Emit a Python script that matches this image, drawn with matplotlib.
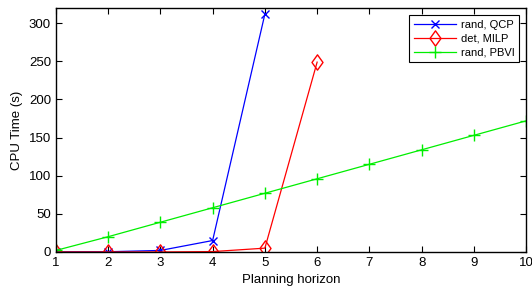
import matplotlib
matplotlib.use("Agg")
import matplotlib.pyplot as plt
from matplotlib.path import Path

plt.rcParams['font.family'] = ['Liberation Sans', 'DejaVu Sans']

horizon = [1, 2, 3, 4, 5, 6, 7, 8, 9, 10]
qcp_h = [1, 2, 3, 4, 5]
qcp_time = [0.2, 0.3, 2, 15, 312]
milp_h = [1, 2, 3, 4, 5, 6]
milp_time = [0, 0, 0, 0.5, 5, 249]
pbvi_time = [2, 20, 39, 58, 77, 96, 115, 134, 153, 172]

# matlab-like diamond, a bit taller than wide
diamond = Path([(0, 1), (0.72, 0), (0, -1), (-0.72, 0), (0, 1)],
               [Path.MOVETO, Path.LINETO, Path.LINETO, Path.LINETO, Path.CLOSEPOLY])

fig = plt.figure(figsize=(5.32, 2.86), dpi=100)
ax = fig.add_axes([0.105, 0.119, 0.884, 0.853])

ax.plot(qcp_h, qcp_time, color='#0000ff', marker='x', markersize=6,
        linewidth=0.9, label='rand, QCP')
ax.plot(milp_h, milp_time, color='#ff0000', marker=diamond, markersize=11,
        markerfacecolor='none', linewidth=0.9, label='det, MILP')
ax.plot(horizon, pbvi_time, color='#00ee00', marker='+', markersize=8,
        linewidth=0.9, label='rand, PBVI')

ax.set_xlim(1, 10)
ax.set_ylim(0, 320)
ax.set_xticks(horizon)
ax.set_yticks([0, 50, 100, 150, 200, 250, 300])
ax.tick_params(direction='in', top=True, right=True, labelsize=9.5,
               length=4, width=0.8)
for s in ax.spines.values():
    s.set_linewidth(1.0)

ax.set_xlabel('Planning horizon', fontsize=9.5, labelpad=4)
ax.set_ylabel('CPU Time (s)', fontsize=9.5)

leg = ax.legend(loc='upper right', fontsize=8, fancybox=False,
                edgecolor='black', framealpha=1, handlelength=3.8,
                handletextpad=0.4, labelspacing=0.35, borderpad=0.45,
                borderaxespad=0.6)
leg.get_frame().set_linewidth(0.8)

fig.savefig('out.png', dpi=100)
